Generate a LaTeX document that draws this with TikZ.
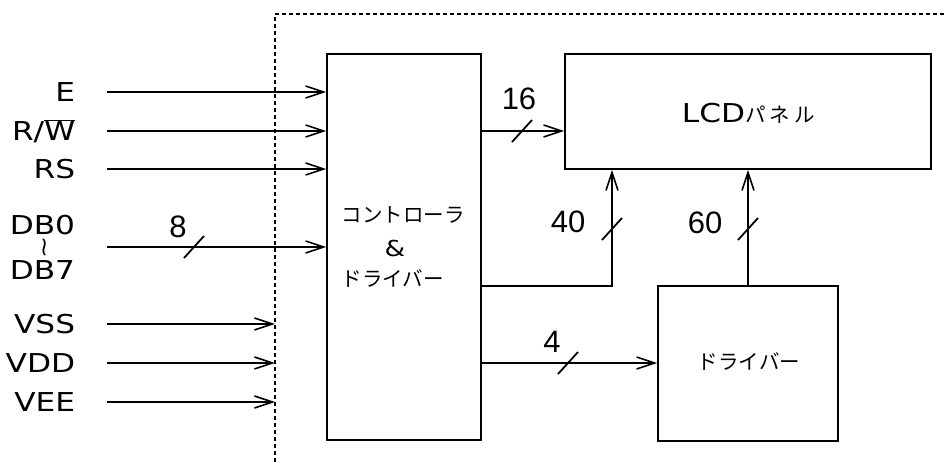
\documentclass[tikz,border=0pt]{standalone}
\usepackage{fontspec}
\setmainfont[FakeStretch=1.2]{DejaVu Sans}
\newfontfamily\numfont{Liberation Sans}
\newfontfamily\jp{Noto Sans CJK JP}
\newfontfamily\jpwide[LetterSpace=20]{Noto Sans CJK JP}
\usetikzlibrary{arrows.meta}
\newcommand\busslash[1]{\draw (#1) ++(-10,11) -- ++(20,-22);}
\begin{document}
\begin{tikzpicture}[x=1pt,y=-1pt,
  line width=1.8pt,
  box/.style={draw,rectangle,inner sep=0pt},
  sig/.style={-{Straight Barb[length=18pt,width=12pt,line width=1.6pt]}},
  lbl/.style={font=\fontsize{26}{26}\selectfont,anchor=east,inner sep=0pt},
  num/.style={font=\numfont\fontsize{31}{31}\selectfont,inner sep=0pt},
  jpt/.style={font=\jp\fontsize{20.5}{22}\selectfont,inner sep=0pt},
  bound/.style={line width=1.8pt,dash pattern=on 3.5pt off 3.5pt},
]
\useasboundingbox (0,0) rectangle (946,462);
% boundary
\draw[bound] (275,462) -- (275,14) -- (946,14);
% boxes
\node[box,minimum width=154pt,minimum height=386pt] (ctrl) at (404,247) {};
\node[box,minimum width=366pt,minimum height=115pt] (lcd) at (748,111.5) {};
\node[box,minimum width=180pt,minimum height=155pt] (drv) at (748,363.5) {};
% box texts
\node[jpt,anchor=west] (c1) at (341,215) {コントローラ};
\node[font=\fontsize{22}{22}\selectfont,inner sep=0pt] (c2) at (395,248) {\&};
\node[jpt,anchor=west] (c3) at (341,279) {ドライバー};
\node[inner sep=0pt,anchor=west] (lcdt) at (681,113) {\fontsize{26}{26}\selectfont LCD\jpwide\fontsize{20.5}{20}\selectfont パネル};
\node[jpt] (drvt) at (749,362) {ドライバー};
% input labels
\node[lbl] (lE) at (76,92) {E};
\node[lbl] (lRW) at (76,131) {R/$\overline{\mbox{W}}$};
\node[lbl] (lRS) at (76,169) {RS};
\node[lbl] (lDB0) at (76,225) {DB0};
\node[inner sep=0pt,rotate=90,font=\fontsize{22}{22}\selectfont] (ltil) at (47,247) {\char"007E};
\node[lbl] (lDB7) at (76,270) {DB7};
\node[lbl] (lVSS) at (76,324) {VSS};
\node[lbl] (lVDD) at (76,363) {VDD};
\node[lbl] (lVEE) at (76,402) {VEE};
% input start coordinates
\coordinate (sE) at (107,92);
\coordinate (sRW) at (107,131);
\coordinate (sRS) at (107,169);
\coordinate (sDB) at (107,247);
\coordinate (sVSS) at (107,324);
\coordinate (sVDD) at (107,363);
\coordinate (sVEE) at (107,402);
\coordinate (bVSS) at (275,324);
\coordinate (bVDD) at (275,363);
\coordinate (bVEE) at (275,402);
\draw[sig] (sE) -- (ctrl.west |- sE);
\draw[sig] (sRW) -- (ctrl.west |- sRW);
\draw[sig] (sRS) -- (ctrl.west |- sRS);
\draw[sig] (sDB) -- (ctrl.west |- sDB);
\draw[sig] (sVSS) -- (bVSS);
\draw[sig] (sVDD) -- (bVDD);
\draw[sig] (sVEE) -- (bVEE);
% bus 8
\coordinate (k8) at (194,247);
\busslash{k8}
\node[num] (n8) at (178,227) {8};
% 16
\coordinate (o16) at (ctrl.east |- 0,131);
\draw[sig] (o16) -- (lcd.west |- o16);
\coordinate (k16) at (522,131);
\busslash{k16}
\node[num] (n16) at (519,99) {16};
% 40
\coordinate (o40) at (ctrl.east |- 0,286);
\coordinate (c40) at (612,286);
\draw[sig] (o40) -- (c40) -- (c40 |- lcd.south);
\coordinate (k40) at (612,229);
\busslash{k40}
\node[num] (n40) at (568,222) {40};
% 60
\draw[sig] (drv.north) -- (lcd.south -| drv.north);
\coordinate (k60) at (748,229);
\busslash{k60}
\node[num] (n60) at (705,223) {60};
% 4
\coordinate (o4) at (ctrl.east |- 0,363);
\draw[sig] (o4) -- (drv.west |- o4);
\coordinate (k4) at (568,363);
\busslash{k4}
\node[num] (n4) at (552,342) {4};
\end{tikzpicture}
\end{document}
